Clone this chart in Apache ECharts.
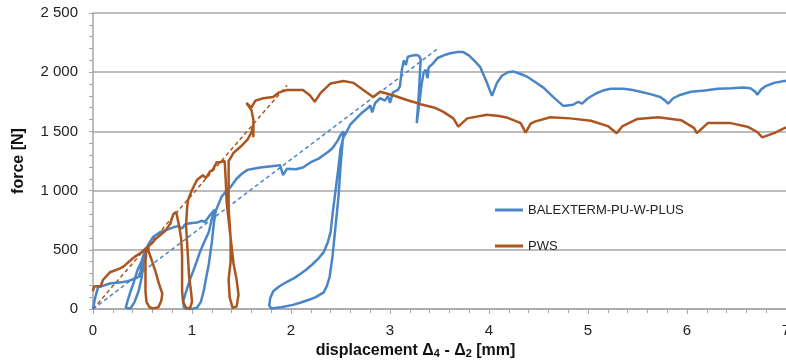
<!DOCTYPE html>
<html>
<head>
<meta charset="utf-8">
<script src="https://cdn.jsdelivr.net/npm/echarts@6/dist/echarts.min.js"></script>
<style>
  html, body { margin: 0; padding: 0; background: #fff; }
  #chart { width: 786px; height: 361px; }
</style>
</head>
<body>
<div id="chart"></div>
<script>
// measured curves [displacement mm, force N]
const balextermData = [
  [0, 0], [0.02, 90], [0.05, 180], [0.1, 195], [0.17, 215], [0.28, 225], [0.35, 235], [0.42, 255], [0.47, 275], [0.5, 400], [0.53, 515],
  [0.49, 400], [0.45, 330], [0.41, 220], [0.38, 150], [0.35, 70], [0.33, 10], [0.34, 0],
  [0.38, 5], [0.42, 60], [0.46, 150], [0.49, 260], [0.51, 380], [0.53, 500],
  [0.57, 560], [0.61, 610], [0.68, 650], [0.75, 670], [0.81, 690], [0.86, 700], [0.9, 680], [0.93, 715], [0.98, 725], [1.05, 730], [1.1, 745], [1.13, 735], [1.17, 780], [1.21, 820], [1.23, 840],
  [1.2, 760], [1.17, 650], [1.12, 560], [1.08, 480], [1.03, 360], [0.98, 250], [0.93, 120], [0.91, 60], [0.92, 10], [0.95, 0],
  [1.0, 0], [1.05, 10], [1.09, 60], [1.12, 160], [1.14, 250], [1.17, 380], [1.2, 560], [1.22, 720], [1.24, 830],
  [1.27, 890], [1.3, 950], [1.35, 1000], [1.39, 1030], [1.45, 1100], [1.5, 1140], [1.56, 1175], [1.62, 1185], [1.69, 1195], [1.8, 1205], [1.89, 1215], [1.92, 1130], [1.96, 1185], [2.05, 1180], [2.12, 1195], [2.2, 1240], [2.28, 1270], [2.33, 1300], [2.38, 1330], [2.42, 1360], [2.47, 1420], [2.5, 1470], [2.53, 1500],
  [2.52, 1400], [2.5, 1200], [2.48, 950], [2.45, 700], [2.42, 450], [2.39, 270], [2.36, 190], [2.33, 140], [2.25, 100], [2.19, 80], [2.1, 55], [2.02, 35], [1.9, 15], [1.8, 5],
  [1.78, 30], [1.79, 90], [1.82, 150], [1.88, 190], [1.96, 230], [2.04, 265], [2.1, 300], [2.15, 330], [2.22, 380], [2.28, 430], [2.33, 480], [2.37, 560], [2.4, 650], [2.42, 800], [2.45, 1000], [2.48, 1200], [2.5, 1350], [2.53, 1450], [2.57, 1510],
  [2.6, 1560], [2.66, 1610], [2.72, 1660], [2.78, 1700], [2.8, 1720], [2.82, 1660], [2.85, 1740], [2.9, 1780], [2.95, 1760], [2.98, 1800], [3.0, 1740], [3.03, 1830], [3.08, 1850], [3.1, 1880], [3.12, 2020], [3.14, 2100], [3.16, 2060], [3.18, 2130], [3.22, 2140], [3.26, 2145], [3.29, 2140], [3.31, 2110],
  [3.29, 1800], [3.27, 1570], [3.29, 1700], [3.32, 1900], [3.34, 2000], [3.36, 2020], [3.38, 1950], [3.39, 2040], [3.43, 2070], [3.48, 2120], [3.55, 2145], [3.61, 2160], [3.68, 2170], [3.74, 2170], [3.8, 2140], [3.86, 2090], [3.91, 2045], [3.97, 1930], [4.03, 1800],
  [4.08, 1910], [4.13, 1970], [4.19, 2000], [4.25, 2005], [4.32, 1985], [4.39, 1960], [4.47, 1915], [4.55, 1870], [4.65, 1790], [4.75, 1715], [4.85, 1725], [4.9, 1750], [4.94, 1735], [5.0, 1780], [5.08, 1820], [5.15, 1845], [5.23, 1860], [5.36, 1860], [5.45, 1850], [5.53, 1835], [5.63, 1815], [5.73, 1790], [5.78, 1760], [5.81, 1735],
  [5.86, 1780], [5.92, 1805], [6.04, 1835], [6.18, 1845], [6.31, 1860], [6.45, 1865], [6.57, 1870], [6.64, 1865], [6.69, 1835], [6.71, 1810], [6.75, 1855], [6.8, 1885], [6.88, 1910], [6.98, 1925], [7.0, 1925]
];

const pwsData = [
  [0, 150], [0.01, 190], [0.08, 195], [0.1, 245], [0.17, 310], [0.22, 325], [0.28, 345], [0.31, 360], [0.35, 390], [0.42, 440], [0.49, 480], [0.54, 515],
  [0.53, 400], [0.53, 270], [0.53, 150], [0.54, 60], [0.57, 15], [0.61, 5], [0.66, 15], [0.69, 70], [0.7, 130], [0.66, 230], [0.63, 320], [0.59, 420], [0.56, 490], [0.56, 530],
  [0.6, 560], [0.63, 590], [0.68, 625], [0.73, 660], [0.78, 720], [0.81, 800], [0.84, 820],
  [0.87, 700], [0.89, 600], [0.9, 450], [0.9, 300], [0.9, 150], [0.91, 60], [0.94, 10], [0.98, 5], [1.0, 60], [0.99, 150], [0.97, 280], [0.96, 430], [0.95, 560], [0.94, 700], [0.95, 850], [0.96, 920],
  [1.0, 1005], [1.05, 1090], [1.11, 1130], [1.14, 1105], [1.18, 1160], [1.21, 1175], [1.25, 1240], [1.28, 1240], [1.33, 1250],
  [1.34, 1100], [1.35, 900], [1.37, 750], [1.39, 600], [1.39, 400], [1.37, 250], [1.38, 100], [1.41, 10], [1.45, 20], [1.47, 120], [1.45, 250], [1.42, 380], [1.39, 600], [1.37, 850], [1.37, 1050], [1.37, 1250],
  [1.4, 1290], [1.42, 1320], [1.49, 1370], [1.56, 1430], [1.6, 1490], [1.62, 1560], [1.62, 1450], [1.62, 1600], [1.6, 1680], [1.55, 1740], [1.6, 1700], [1.64, 1760], [1.72, 1780], [1.82, 1790], [1.87, 1825], [1.92, 1840], [1.96, 1850],
  [2.12, 1850], [2.19, 1805], [2.24, 1750], [2.3, 1825], [2.4, 1905], [2.53, 1925], [2.63, 1910], [2.73, 1850], [2.83, 1790], [2.9, 1835], [3.03, 1805], [3.17, 1765], [3.31, 1730], [3.45, 1700], [3.54, 1665], [3.64, 1610], [3.69, 1540],
  [3.78, 1610], [3.98, 1640], [4.1, 1630], [4.19, 1615], [4.32, 1570], [4.37, 1490], [4.42, 1565], [4.47, 1585], [4.62, 1620], [4.82, 1610], [5.03, 1590], [5.2, 1545], [5.29, 1485],
  [5.35, 1545], [5.5, 1605], [5.71, 1620], [5.94, 1595], [6.07, 1530], [6.1, 1485], [6.21, 1570], [6.44, 1570], [6.61, 1540], [6.71, 1495], [6.76, 1450], [6.88, 1485], [7.0, 1535]
];

// linear trend lines (dashed)
const balextermTrend = [[0, 0], [3.5, 2210]];
const pwsTrend = [[0, 0], [1.96, 1890]];

const seriesNames = ['BALEXTERM-PU-W-PLUS', 'PWS'];
const blue = '#4a86c6';
const brown = '#ab5620';
const gridGray = '#a6a6a6';

const chart = echarts.init(document.getElementById('chart'));

// thousands separated by a space, like "2 500"
const fmtForce = v => String(v).replace(/\B(?=(\d{3})+(?!\d))/g, ' ');

const baseX = { type: 'value', min: 0, max: 7, interval: 1 };
const baseY = { type: 'value', min: 0, max: 2500, interval: 500 };

const option = {
  animation: false,
  textStyle: { fontFamily: 'Liberation Sans, Arial, sans-serif' },
  grid: { left: 93, right: 0, top: 13, bottom: 52, containLabel: false, outerBoundsMode: 'none' },
  legend: {
    data: seriesNames,
    orient: 'vertical',
    left: 490,
    top: 197,
    icon: 'rect',
    itemWidth: 28,
    itemHeight: 3,
    itemGap: 20,
    textStyle: { fontSize: 13, lineHeight: 16, color: '#222' }
  },
  xAxis: [
    Object.assign({}, baseX, {
      name: 'displacement Δ{sub|4} - Δ{sub|2} [mm]',
      nameLocation: 'middle',
      nameGap: 33,
      nameTextStyle: {
        fontSize: 16, fontWeight: 'bold', color: '#111',
        padding: [0, 48, 0, 0],
        rich: { sub: { fontSize: 11, fontWeight: 'bold', verticalAlign: 'bottom', padding: [6, 0, 0, 0] } }
      },
      axisLine: { show: true, lineStyle: { color: gridGray, width: 1.5 } },
      axisTick: { show: true, inside: false, length: 5, lineStyle: { color: gridGray } },
      minorTick: { show: true, splitNumber: 5, length: 4, lineStyle: { color: gridGray } },
      axisLabel: { fontSize: 15, color: '#222', margin: 14 },
      splitLine: { show: false }
    }),
    Object.assign({}, baseX, {
      axisLine: { show: false },
      axisTick: { show: true, inside: true, length: 5, lineStyle: { color: gridGray } },
      minorTick: { show: true, splitNumber: 5, length: 4, lineStyle: { color: gridGray } },
      axisLabel: { show: false },
      splitLine: { show: false }
    })
  ],
  yAxis: [
    Object.assign({}, baseY, {
      name: 'force [N]',
      nameLocation: 'middle',
      nameGap: 66,
      nameTextStyle: { fontSize: 16, fontWeight: 'bold', color: '#111' },
      axisLine: { show: true, lineStyle: { color: gridGray, width: 1.5 } },
      axisTick: { show: true, inside: false, length: 4, lineStyle: { color: gridGray } },
      minorTick: { show: true, splitNumber: 5, length: 4, lineStyle: { color: gridGray } },
      axisLabel: { fontSize: 15, color: '#222', margin: 15, formatter: fmtForce },
      splitLine: { show: true, lineStyle: { color: gridGray, width: 1.5 } }
    }),
    Object.assign({}, baseY, {
      axisLine: { show: false },
      axisTick: { show: true, inside: true, length: 4, lineStyle: { color: gridGray } },
      minorTick: { show: true, splitNumber: 5, length: 4, lineStyle: { color: gridGray } },
      axisLabel: { show: false },
      splitLine: { show: false }
    })
  ],
  series: [
    {
      name: seriesNames[0],
      type: 'line',
      data: balextermData,
      showSymbol: false,
      color: blue,
      itemStyle: { color: blue },
      lineStyle: { color: blue, width: 2.5 },
      z: 3
    },
    {
      name: seriesNames[1],
      type: 'line',
      data: pwsData,
      showSymbol: false,
      color: brown,
      itemStyle: { color: brown },
      lineStyle: { color: brown, width: 2.5 },
      z: 4
    },
    {
      name: 'trend-blue',
      type: 'line',
      data: balextermTrend,
      showSymbol: false,
      lineStyle: { color: blue, width: 1.5, type: [4, 3] },
      z: 2
    },
    {
      name: 'trend-brown',
      type: 'line',
      data: pwsTrend,
      showSymbol: false,
      lineStyle: { color: brown, width: 1.5, type: [4, 3] },
      z: 2
    }
  ]
};

chart.setOption(option);
</script>
</body>
</html>
